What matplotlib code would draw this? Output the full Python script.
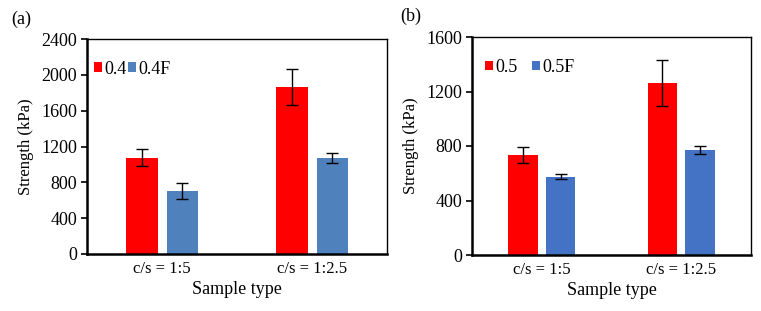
import numpy as np
import matplotlib.pyplot as plt

plt.rcParams['font.family'] = ['Liberation Serif', 'DejaVu Serif']

categories = ["c/s = 1:5", "c/s = 1:2.5"]

# panel (a)
a_labels = ["0.4", "0.4F"]
a_red = [1075, 1860]
a_red_err = [93, 200]
a_blue = [700, 1070]
a_blue_err = [90, 56]

# panel (b)
b_labels = ["0.5", "0.5F"]
b_red = [734, 1262]
b_red_err = [57, 172]
b_blue = [575, 773]
b_blue_err = [18, 30]

RED = "#FF0000"


def draw_panel(ax, red, red_err, blue, blue_err, labels, blue_color, ymax, step,
               leg_x, colspace, tag, tag_xy):
    x = np.arange(len(categories))
    w = 0.21
    off = 0.135
    ekw = dict(ecolor="black", elinewidth=1.0, capsize=4, capthick=1.0)
    ax.bar(x - off, red, w, yerr=red_err, color=RED, label=labels[0],
           error_kw=ekw)
    ax.bar(x + off, blue, w, yerr=blue_err, color=blue_color, label=labels[1],
           error_kw=ekw)
    ax.set_xlim(-0.5, 1.5)
    ax.set_ylim(0, ymax)
    ax.set_yticks(np.arange(0, ymax + 1, step))
    ax.set_xticks(x)
    ax.set_xticklabels(categories)
    ax.tick_params(axis="x", length=0, labelsize=12, pad=5)
    ax.tick_params(axis="y", length=4, width=1.2, labelsize=13, direction="out",
                   pad=3)
    for s in ["top", "right"]:
        ax.spines[s].set_linewidth(1.0)
    for s in ["left", "bottom"]:
        ax.spines[s].set_linewidth(1.8)
    ax.set_xlabel("Sample type", fontsize=13, labelpad=3)
    ax.set_ylabel("Strength (kPa)", fontsize=12, labelpad=5)
    ax.legend(loc="center left", bbox_to_anchor=(leg_x, 0.86), ncol=2,
              frameon=False, fontsize=13, handlelength=0.45, handleheight=0.45,
              handletextpad=0.12, columnspacing=colspace, borderaxespad=0)
    ax.figure.text(tag_xy[0], tag_xy[1], tag, fontsize=13, ha="left", va="center")


fig = plt.figure(figsize=(7.61, 3.11), dpi=100)
W, H = 761, 311
ax1 = fig.add_axes([87 / W, 1 - 254 / H, (387 - 87) / W, (254 - 39) / H])
ax2 = fig.add_axes([472 / W, 1 - 255 / H, (751 - 472) / W, (255 - 37) / H])

draw_panel(ax1, a_red, a_red_err, a_blue, a_blue_err, a_labels, "#4F81BD",
           2400, 400, 0.0, 0.05, "(a)", (11 / W, 1 - 19 / H))
draw_panel(ax2, b_red, b_red_err, b_blue, b_blue_err, b_labels, "#4472C4",
           1600, 400, 0.02, 0.8, "(b)", (400 / W, 1 - 16 / H))

fig.savefig("out.png", dpi=100)
